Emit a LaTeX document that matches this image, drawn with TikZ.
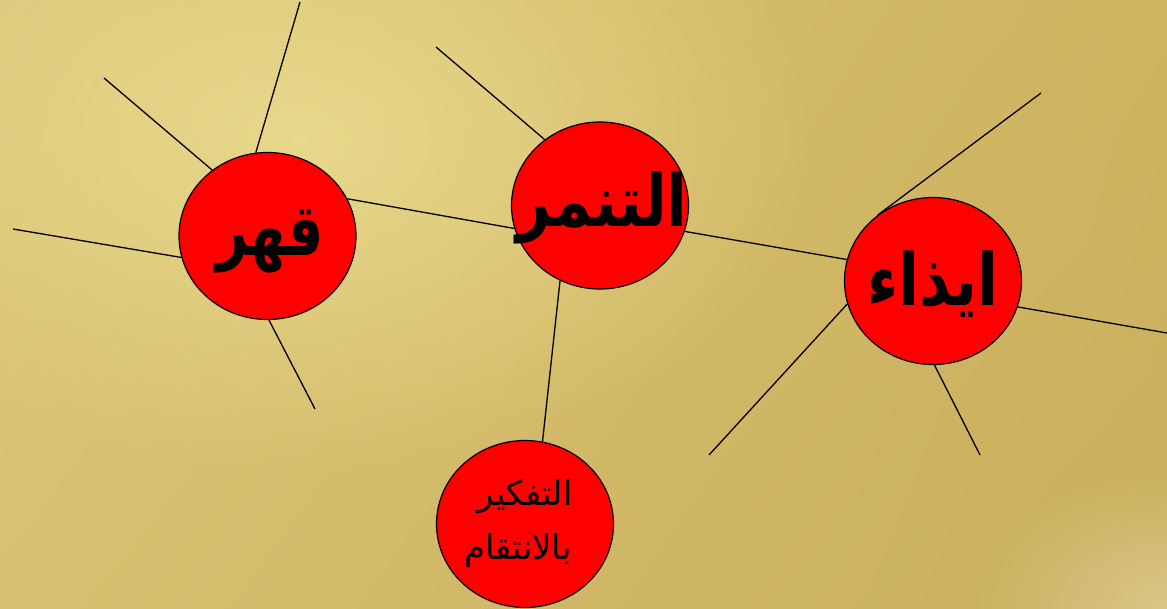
\documentclass[tikz,border=0pt]{standalone}
\usepackage{fontspec}
\usetikzlibrary{shapes.geometric,fadings,shadings}
\newfontfamily\arabicfont[Script=Arabic]{DejaVu Sans}
\TeXXeTstate=1
\definecolor{bgUL}{HTML}{DCC77B}
\definecolor{bgUR}{HTML}{CFB45F}
\definecolor{bgLL}{HTML}{D6C071}
\definecolor{bgLR}{HTML}{C9AE5C}
\definecolor{bgHi}{HTML}{EADB8E}
\definecolor{bgCorner}{HTML}{DCC98C}
\definecolor{bubred}{HTML}{FF0000}
\tikzfading[name=softspot, inner color=transparent!0, outer color=transparent!100]
\begin{document}
\begin{tikzpicture}[x=1pt,y=-1pt,
  bubble/.style={ellipse, draw=black, line width=1.2pt, fill=bubred, minimum width=177pt, minimum height=167pt, inner sep=0pt},
  spoke/.style={draw=black, line width=1.3pt},
  bigword/.style={inner sep=0pt, font=\arabicfont\bfseries\fontsize{72}{80}\selectfont, text=black},
  smallword/.style={inner sep=0pt, font=\arabicfont\fontsize{34}{40}\selectfont, text=black}]
\useasboundingbox (0,0) rectangle (1167,608);
% background
\shade[upper left=bgUL, upper right=bgUR, lower left=bgLL, lower right=bgLR] (0,0) rectangle (1167,608);
\fill[bgHi, path fading=softspot, opacity=0.9] (300,140) ellipse [x radius=520pt, y radius=340pt];
\fill[bgCorner, path fading=softspot, opacity=0.9] (1167,608) ellipse [x radius=200pt, y radius=140pt];
% bubbles
\node[bubble] (c1) at (267.5,236) {};
\node[bubble] (c2) at (600,205.5) {};
\node[bubble] (c3) at (933,281) {};
\node[bubble] (c4) at (525,524) {};
% free ends
\coordinate (e1a) at (300,2);
\coordinate (e1b) at (104,78);
\coordinate (e1c) at (13,229);
\coordinate (e1d) at (315,409);
\coordinate (e2a) at (436,47);
\coordinate (e3a) at (1041,93);
\coordinate (e3b) at (1167,333);
\coordinate (e3c) at (709,455);
\coordinate (e3d) at (980,455);
% connectors
\draw[spoke] (c1.98.6) -- (e1a);
\draw[spoke] (c1.130.7) -- (e1b);
\draw[spoke] (c1.194.6) -- (e1c);
\draw[spoke] (c1.271.7) -- (e1d);
\draw[spoke] (c1.25) -- (c2.195);
\draw[spoke] (c2.130.5) -- (e2a);
\draw[spoke] (c2.343.2) -- (c3.166);
\draw[spoke] (c2.242.6) -- (c4.78.8);
\draw[spoke] (c3.130.9) -- (e3a);
\draw[spoke] (c3.343) -- (e3b);
\draw[spoke] (c3.195) -- (e3c);
\draw[spoke] (c3.271.4) -- (e3d);
% words
\node[bigword] (t1) at (270,241) {\scalebox{0.77}[1]{\beginR قهر\endR}};
\node[bigword] (t2) at (602,208) {\scalebox{0.84}[1]{\beginR التنمر\endR}};
\node[bigword] (t3) at (933,284) {\scalebox{0.85}[1]{\beginR ايذاء\endR}};
\node[smallword] (t4a) at (525,497) {\beginR التفكير\endR};
\node[smallword] (t4b) at (518,551) {\beginR بالانتقام\endR};
\end{tikzpicture}
\end{document}
